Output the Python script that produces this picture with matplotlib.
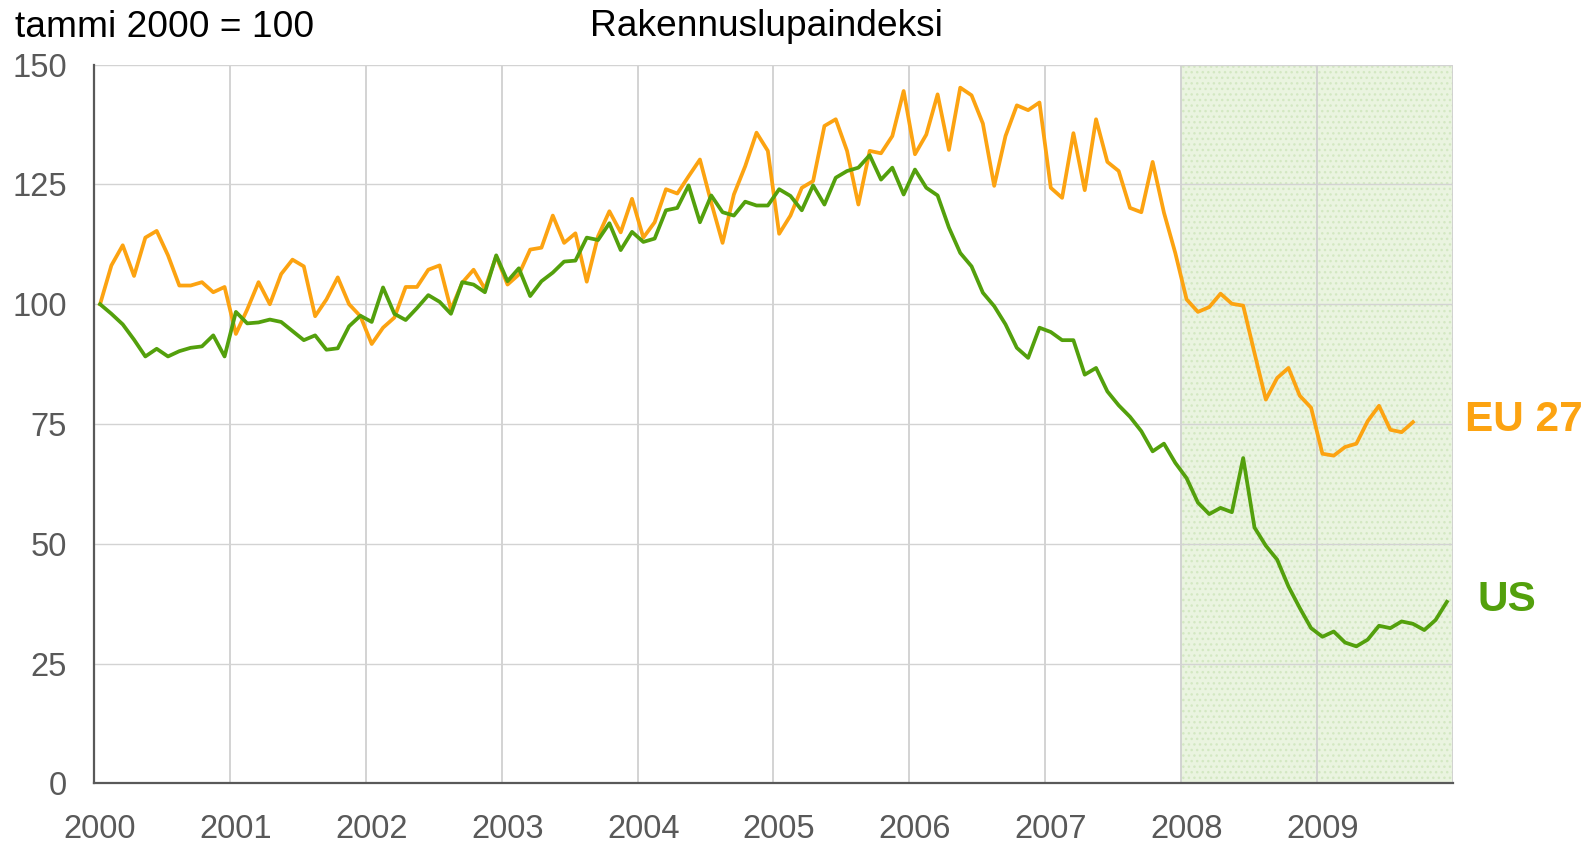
import numpy as np
import matplotlib.pyplot as plt

plt.rcParams['font.family'] = ['Liberation Sans', 'DejaVu Sans']

# monthly index, tammi 2000 = 100
eu27 = [100, 108.1, 112.3, 105.9, 113.9, 115.3, 110.2, 103.9, 103.9, 104.6, 102.5, 103.6,
        93.8, 98.9, 104.6, 100.0, 106.3, 109.3, 107.9, 97.5, 101.0, 105.6, 100.0, 97.5,
        91.7, 95.1, 97.2, 103.6, 103.6, 107.2, 108.1, 98.9, 104.5, 107.2, 103.2, 110.0,
        104.1, 106.2, 111.4, 111.8, 118.5, 112.8, 114.8, 104.7, 114.2, 119.4, 115.0, 122.0,
        113.9, 117.1, 124.0, 123.1, 126.7, 130.2, 121.2, 112.8, 122.9, 128.8, 135.8, 132.0,
        114.7, 118.5, 124.3, 125.7, 137.2, 138.6, 132.0, 120.8, 132.0, 131.5, 135.1, 144.5,
        131.3, 135.4, 143.8, 132.2, 145.2, 143.6, 137.7, 124.7, 135.1, 141.5, 140.5, 142.1,
        124.3, 122.2, 135.7, 123.8, 138.6, 129.7, 127.8, 120.1, 119.2, 129.7, 119.1, 110.7,
        101.0, 98.4, 99.4, 102.2, 100.1, 99.7, 89.8, 80.1, 84.6, 86.7, 80.9, 78.4,
        68.8, 68.4, 70.2, 70.9, 75.6, 78.8, 73.8, 73.3, 75.4]

us = [100, 98.0, 95.8, 92.6, 89.1, 90.7, 89.1, 90.2, 90.9, 91.2, 93.5, 89.1,
      98.4, 96.0, 96.2, 96.8, 96.3, 94.4, 92.5, 93.5, 90.5, 90.8, 95.4, 97.6,
      96.3, 103.5, 98.0, 96.7, 99.2, 101.9, 100.5, 98.0, 104.6, 104.1, 102.5, 110.2,
      104.8, 107.5, 101.7, 104.8, 106.6, 108.9, 109.1, 113.9, 113.4, 116.9, 111.3, 115.1,
      113.0, 113.7, 119.6, 120.1, 124.8, 117.1, 122.7, 119.2, 118.5, 121.4, 120.6, 120.6,
      124.0, 122.6, 119.6, 124.8, 120.8, 126.4, 127.8, 128.5, 131.1, 126.0, 128.5, 122.9,
      128.1, 124.3, 122.7, 116.0, 110.7, 107.9, 102.4, 99.6, 95.8, 90.9, 88.8, 95.1,
      94.2, 92.5, 92.5, 85.3, 86.7, 81.8, 78.9, 76.5, 73.5, 69.3, 70.9, 66.9,
      63.7, 58.6, 56.2, 57.5, 56.6, 67.9, 53.4, 49.6, 46.7, 41.1, 36.6, 32.4,
      30.6, 31.7, 29.4, 28.6, 30.0, 32.9, 32.4, 33.8, 33.3, 32.0, 34.1, 37.9]

years = list(range(2000, 2010))
yticks = [0, 25, 50, 75, 100, 125, 150]

orange = '#FCA311'
green = '#53A00C'
tick_grey = '#595959'

# points sit in the middle of each month
x_eu = 2000 + (np.arange(len(eu27)) + 0.5) / 12
x_us = 2000 + (np.arange(len(us)) + 0.5) / 12

fig = plt.figure(figsize=(15.95, 8.46), dpi=100)
ax = fig.add_axes([0.0592, 0.074, 0.8515, 0.8496])

# recession shading 2008-2009
ax.axvspan(2008, 2010, facecolor='#eaf4e0', edgecolor='#d3e8c2', hatch='...',
           linewidth=0, zorder=0.2)

ax.plot(x_eu, eu27, color=orange, lw=2.7, zorder=3)
ax.plot(x_us, us, color=green, lw=2.7, zorder=3)

ax.set_xlim(2000, 2010)
ax.set_ylim(0, 150)

# gridlines at year boundaries, labels at first month
ax.set_xticks(years + [2010])
ax.set_xticklabels([])
ax.set_xticks([y + 0.5 / 12 for y in years], minor=True)
ax.set_xticklabels([str(y) for y in years], minor=True)
ax.tick_params(axis='x', which='both', length=0, pad=22, labelsize=23.5, labelcolor=tick_grey)
ax.grid(axis='x', which='major', color='#d0d0d0', lw=1.3)

ax.set_yticks(yticks)
ax.tick_params(axis='y', length=0, pad=20, labelsize=23.5, labelcolor=tick_grey)
ax.grid(axis='y', color='#d3d3d3', lw=1.0)
ax.set_axisbelow(True)

for s in ['top', 'right']:
    ax.spines[s].set_visible(False)
for s in ['left', 'bottom']:
    ax.spines[s].set_color('#595959')
    ax.spines[s].set_linewidth(1.6)

fig.text(0.0094, 0.968, 'tammi 2000 = 100', fontsize=26.7, va='center', ha='left')
fig.text(0.4805, 0.969, 'Rakennuslupaindeksi', fontsize=26.7, va='center', ha='center')

ax.text(1.0095, 75.8, 'EU 27', transform=ax.get_yaxis_transform(), color=orange,
        fontsize=30.5, fontweight='bold', va='center', ha='left')
ax.text(1.0185, 38.2, 'US', transform=ax.get_yaxis_transform(), color=green,
        fontsize=30.5, fontweight='bold', va='center', ha='left')

fig.savefig('out.png', dpi=100)
